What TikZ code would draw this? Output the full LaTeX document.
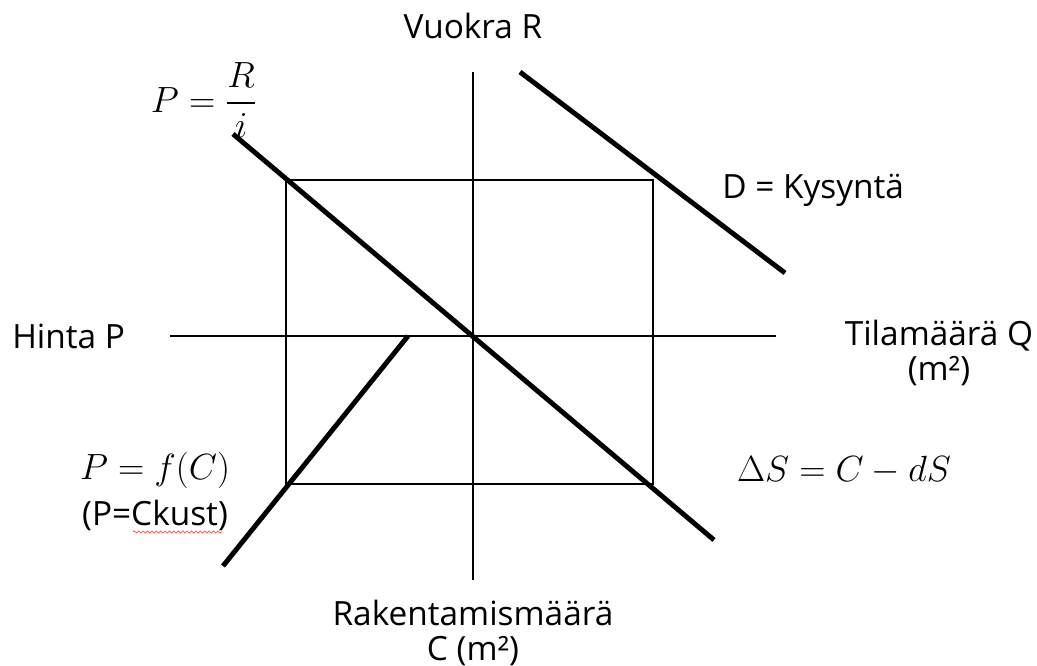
\documentclass[tikz,border=0pt]{standalone}
\usepackage{amsmath, amssymb}
\usepackage{fontspec}
\setmainfont{Open Sans}
\usepackage{tikz}
\usetikzlibrary{arrows.meta, calc, decorations.pathmorphing}

\tikzset{
  axis/.style={line width=1.1pt},
  curve/.style={line width=2.8pt},
  lbl/.style={font=\fontsize{19}{19.5}\selectfont, inner sep=0pt, align=center},
  mlbl/.style={font=\fontsize{21}{24}\selectfont, inner sep=0pt}
}

\begin{document}
\begin{tikzpicture}
  \useasboundingbox (0,0) rectangle (20.74,13.32);
  % axes
  \draw[axis] (9.46,1.72) -- (9.46,11.88);
  \draw[axis] (3.4,6.6) -- (15.52,6.6);
  % the four-quadrant box
  \draw[axis] (5.72,3.64) rectangle (13.06,9.72);
  % curves
  \draw[curve] (4.66,10.64) -- (14.28,2.52);
  \draw[curve] (10.4,11.88) -- (15.7,7.86);
  \draw[curve] (4.46,2.0) -- (8.16,6.6);
  % axis labels
  \node[lbl] (vuokra) at (9.46,12.8) {Vuokra R};
  \node[lbl, anchor=west] (hinta) at (0.24,6.6) {Hinta P};
  \node[lbl] (tilam) at (18.78,6.26) {Tilamäärä Q\\(m²)};
  \node[lbl] (rak) at (9.46,0.66) {Rakentamismäärä\\C (m²)};
  % curve labels
  \node[mlbl] (yield) at (4.08,11.32) {$P=\dfrac{R}{i}$};
  \node[lbl, anchor=west] (demand) at (14.44,9.52) {D = Kysyntä};
  \node[mlbl] (cost) at (3.1,3.92) {$P=f(C)$};
  \node[lbl] (ckust) at (3.1,3.02) {(P=Ckust)};
  \node[mlbl] (stock) at (16.88,3.92) {$\Delta S=C-dS$};
  % spelling mark
  \draw[red!70, line width=0.4pt, decorate,
        decoration={snake, amplitude=0.6pt, segment length=2.5pt}]
    (2.66,2.68) -- (4.44,2.68);
\end{tikzpicture}
\end{document}
